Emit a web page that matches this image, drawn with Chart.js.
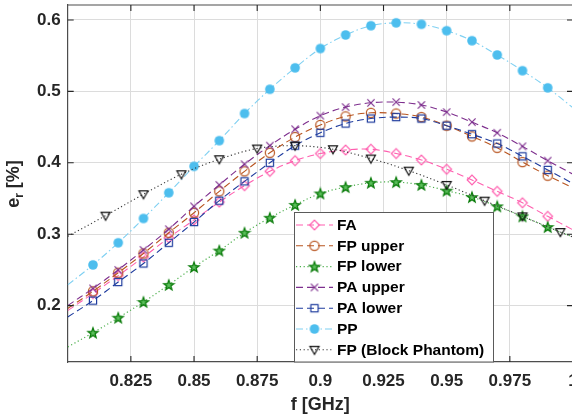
<!DOCTYPE html>
<html><head><meta charset="utf-8">
<script src="https://cdn.jsdelivr.net/npm/chart.js@4.4.0/dist/chart.umd.min.js"></script>
<style>
html,body{margin:0;padding:0;background:#fff;overflow:hidden;}
#wrap{width:580px;height:418px;position:relative;}
</style>
</head><body>
<div id="wrap"><canvas id="c"></canvas></div>
<script>
// ---- data ----
const freqs = [0.81,0.82,0.83,0.84,0.85,0.86,0.87,0.88,0.89,0.90,0.91,0.92,0.93,0.94,0.95,0.96,0.97,0.98,0.99];
const bpFreqs = [0.815,0.83,0.845,0.86,0.875,0.89,0.905,0.92,0.935,0.95,0.965,0.98,0.995];
const edgeFreqs = [0.8, 1.0];

const FA      = [0.217,0.242,0.268,0.295,0.320,0.345,0.368,0.388,0.403,0.413,0.418,0.419,0.413,0.404,0.391,0.376,0.360,0.344,0.325];
const FA_edge = [0.193,0.306];
const FPupper      = [0.220,0.246,0.273,0.302,0.330,0.360,0.388,0.414,0.436,0.453,0.465,0.470,0.469,0.464,0.452,0.437,0.421,0.401,0.382];
const FPupper_edge = [0.196,0.365];
const FPlower      = [0.162,0.183,0.205,0.229,0.254,0.277,0.302,0.323,0.341,0.357,0.366,0.372,0.373,0.369,0.361,0.352,0.339,0.325,0.310];
const FPlower_edge = [0.142,0.296];
const PAupper      = [0.224,0.250,0.278,0.307,0.339,0.369,0.398,0.424,0.447,0.466,0.478,0.484,0.485,0.481,0.471,0.457,0.442,0.423,0.403];
const PAupper_edge = [0.200,0.384];
const PAlower      = [0.207,0.233,0.259,0.288,0.317,0.347,0.374,0.400,0.424,0.442,0.455,0.462,0.464,0.462,0.452,0.440,0.427,0.409,0.390];
const PAlower_edge = [0.184,0.371];
const PP      = [0.257,0.288,0.322,0.358,0.395,0.431,0.469,0.503,0.533,0.560,0.579,0.592,0.596,0.594,0.585,0.571,0.551,0.529,0.505];
const PP_edge = [0.229,0.477];
const BP      = [0.326,0.356,0.384,0.405,0.420,0.424,0.419,0.406,0.389,0.369,0.347,0.325,0.303];
const BP_edge = [0.297,0.296];

const seriesLabels = ['FA','FP upper','FP lower','PA upper','PA lower','PP','FP (Block Phantom)'];

const xTickValues = [0.825,0.85,0.875,0.9,0.925,0.95,0.975,1.0];
const xTickLabels = ['0.825','0.85','0.875','0.9','0.925','0.95','0.975','1'];
const yTickValues = [0.2,0.3,0.4,0.5,0.6];
const yTickLabels = ['0.2','0.3','0.4','0.5','0.6'];

// ---- markers ----
function mk(drawFn){
  const c=document.createElement('canvas'); c.width=14; c.height=14;
  const g=c.getContext('2d'); g.translate(7,7); drawFn(g); return c;
}
const mDiamond = mk(g=>{g.strokeStyle='#FF5FAF';g.lineWidth=1.2;g.beginPath();g.moveTo(0,-4.8);g.lineTo(4.8,0);g.lineTo(0,4.8);g.lineTo(-4.8,0);g.closePath();g.stroke();});
const mCircle = mk(g=>{g.strokeStyle='#B8541F';g.lineWidth=1.2;g.beginPath();g.arc(0,0,4.6,0,Math.PI*2);g.stroke();});
const mStar = mk(g=>{g.beginPath();for(let i=0;i<10;i++){const r=i%2?2.2:5.3;const a=-Math.PI/2+i*Math.PI/5;const px=r*Math.cos(a),py=r*Math.sin(a)+0.4;i?g.lineTo(px,py):g.moveTo(px,py);}g.closePath();g.fillStyle='#5cbf5c';g.fill();g.strokeStyle='#087a08';g.lineWidth=1.3;g.stroke();});
const mX = mk(g=>{g.strokeStyle='#7E2F8E';g.lineWidth=1.2;g.beginPath();g.moveTo(-3.6,-3.6);g.lineTo(3.6,3.6);g.moveTo(3.6,-3.6);g.lineTo(-3.6,3.6);g.stroke();});
const mSquare = mk(g=>{g.strokeStyle='#1F3C9E';g.lineWidth=1.2;g.strokeRect(-3.6,-3.6,7.2,7.2);});
const mDot = mk(g=>{g.fillStyle='#4DBEEE';g.beginPath();g.arc(0,0,4.8,0,Math.PI*2);g.fill();});
const mTri = mk(g=>{g.strokeStyle='#111';g.lineWidth=1.1;g.beginPath();g.moveTo(-4.6,-3.4);g.lineTo(4.6,-3.4);g.lineTo(0,4.6);g.closePath();g.stroke();});

const styles = [
  {color:'#FF5FAF', dash:[7,4], marker:mDiamond, width:1.1},
  {color:'#B8541F', dash:[7,4], marker:mCircle, width:1.1},
  {color:'#4CAF4C', dash:[1.2,2.6], marker:mStar, width:1.2},
  {color:'#7E2F8E', dash:[7,4], marker:mX, width:1.1},
  {color:'#1F3C9E', dash:[7,4], marker:mSquare, width:1.1},
  {color:'#7FD0F2', dash:[7,3,1.5,3], marker:mDot, width:1.1},
  {color:'#333333', dash:[1.2,2.6], marker:mTri, width:1.1}
];
const seriesValues = [FA,FPupper,FPlower,PAupper,PAlower,PP,BP];
const seriesEdges = [FA_edge,FPupper_edge,FPlower_edge,PAupper_edge,PAlower_edge,PP_edge,BP_edge];
const seriesFreqs = [freqs,freqs,freqs,freqs,freqs,freqs,bpFreqs];

const datasets = seriesLabels.map((lab,i)=>{
  const f=seriesFreqs[i], v=seriesValues[i], e=seriesEdges[i];
  const pts=[{x:edgeFreqs[0],y:e[0]}].concat(f.map((x,k)=>({x:x,y:v[k]}))).concat([{x:edgeFreqs[1],y:e[1]}]);
  const n=pts.length;
  return {
    label:lab, data:pts, order:6-i,
    borderColor:styles[i].color, borderWidth:styles[i].width, borderDash:styles[i].dash,
    fill:false, tension:0.35,
    pointStyle:styles[i].marker,
    pointRadius:(ctx)=> (ctx.dataIndex===0||ctx.dataIndex===n-1)?0:5
  };
});

const FONT='"Liberation Sans", Arial, Helvetica, sans-serif';
const TXT='#262626';

const extras = {
  id:'extras',
  afterDatasetsDraw(chart){
    const ctx=chart.ctx, a=chart.chartArea, xs=chart.scales.x, ys=chart.scales.y;
    ctx.save();
    ctx.strokeStyle='#4d4d4d'; ctx.lineWidth=1.2;
    ctx.beginPath(); ctx.moveTo(a.left,a.top); ctx.lineTo(a.right,a.top); ctx.moveTo(a.right,a.top); ctx.lineTo(a.right,a.bottom); ctx.stroke();
    ctx.lineWidth=1.1; ctx.strokeStyle='#262626';
    ctx.beginPath();
    xTickValues.forEach(v=>{const px=xs.getPixelForValue(v); ctx.moveTo(px,a.bottom); ctx.lineTo(px,a.bottom-6); ctx.moveTo(px,a.top); ctx.lineTo(px,a.top+6);});
    yTickValues.forEach(v=>{const py=ys.getPixelForValue(v); ctx.moveTo(a.left,py); ctx.lineTo(a.left+6,py); ctx.moveTo(a.right,py); ctx.lineTo(a.right-6,py);});
    ctx.stroke();
    ctx.restore();
  },
  afterDraw(chart){
    const ctx=chart.ctx;
    ctx.save();
    // legend
    const L=294.5,T=212.5,R=493.5,B=362;
    ctx.fillStyle='#fff'; ctx.fillRect(L,T,R-L,B-T);
    ctx.strokeStyle='#5a5a5a'; ctx.lineWidth=1; ctx.strokeRect(L,T,R-L,B-T);
    const rowY=[225,245.8,266.6,287.4,308.2,329,349.8];
    seriesLabels.forEach((lab,i)=>{
      const y=rowY[i];
      ctx.save();
      ctx.strokeStyle=styles[i].color; ctx.lineWidth=styles[i].width; ctx.setLineDash(styles[i].dash);
      ctx.beginPath(); ctx.moveTo(296,y); ctx.lineTo(333,y); ctx.stroke();
      ctx.restore();
      const m=styles[i].marker; ctx.drawImage(m,314.5-7,y-7);
      ctx.fillStyle='#000'; ctx.font='bold 15.5px '+FONT; ctx.textBaseline='middle'; ctx.textAlign='left';
      ctx.fillText(lab,337,y+0.5);
    });
    // y title e_r [%]
    ctx.translate(18.5,184); ctx.rotate(-Math.PI/2);
    ctx.fillStyle=TXT; ctx.textBaseline='alphabetic';
    ctx.font='bold 18px '+FONT; const we=ctx.measureText('e').width;
    ctx.font='bold 12px '+FONT; const wr=ctx.measureText('r').width;
    ctx.font='bold 18px '+FONT; const wp=ctx.measureText(' [%]').width;
    let x0=-(we+wr+wp)/2;
    ctx.font='bold 18px '+FONT; ctx.fillText('e',x0,0); x0+=we;
    ctx.font='bold 12px '+FONT; ctx.fillText('r',x0,4); x0+=wr;
    ctx.font='bold 18px '+FONT; ctx.fillText(' [%]',x0,0);
    ctx.restore();
  }
};

function lab(vals,labels,v){ for(let i=0;i<vals.length;i++){ if(Math.abs(vals[i]-v)<1e-6) return labels[i]; } return ''; }
function noPad(s){ s.paddingTop=0; s.paddingBottom=0; s.paddingLeft=0; s.paddingRight=0; }

new Chart(document.getElementById('c'),{
  type:'line',
  data:{datasets:datasets},
  options:{
    responsive:true, maintainAspectRatio:false, animation:false, events:[],
    layout:{padding:{top:5,right:7,left:0,bottom:0}},
    plugins:{legend:{display:false}, tooltip:{enabled:false}},
    scales:{
      x:{type:'linear', min:0.8, max:1.0,
        afterBuildTicks:s=>{s.ticks=xTickValues.map(v=>({value:v}));},
        afterFit:s=>{s.height=56; noPad(s);},
        ticks:{autoSkip:false, maxRotation:0, padding:9, color:TXT, font:{family:FONT,size:17,weight:'bold'},
          callback:v=>lab(xTickValues,xTickLabels,v)},
        grid:{color:'#dcdcdc', lineWidth:1, drawTicks:false},
        border:{color:'#4d4d4d', width:1.2},
        title:{display:true, text:'f [GHz]', color:TXT, font:{family:FONT,size:18,weight:'bold'}, padding:{top:0,bottom:2}}
      },
      y:{type:'linear', min:0.121, max:0.621,
        afterBuildTicks:s=>{s.ticks=yTickValues.map(v=>({value:v}));},
        afterFit:s=>{s.width=67.7; noPad(s);},
        ticks:{padding:7, color:TXT, font:{family:FONT,size:17,weight:'bold'},
          callback:v=>lab(yTickValues,yTickLabels,v)},
        grid:{color:'#dcdcdc', lineWidth:1, drawTicks:false},
        border:{color:'#4d4d4d', width:1.2}
      }
    }
  },
  plugins:[extras]
});
</script>
</body></html>
